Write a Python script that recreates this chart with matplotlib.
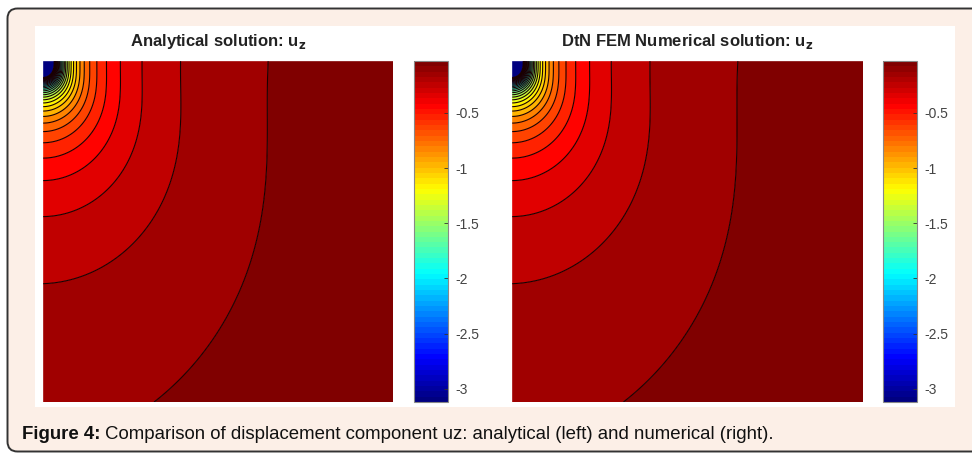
import numpy as np
import matplotlib
matplotlib.use("Agg")
import matplotlib.pyplot as plt
from matplotlib.colors import Normalize, LinearSegmentedColormap
from matplotlib.cm import ScalarMappable
from matplotlib.patches import FancyBboxPatch, Rectangle

# --- values ----------------------------------------------------------------
titles = [r"Analytical solution: u$_\mathbf{z}$",
          r"DtN FEM Numerical solution: u$_\mathbf{z}$"]
caption_bold = "Figure 4:"
caption_text = "Comparison of displacement component uz: analytical (left) and numerical (right)."

# colour range of the colorbars
u_min, u_max = -3.12, -0.03
cbar_ticks = [-3.0, -2.5, -2.0, -1.5, -1.0, -0.5]
cbar_labels = ["-3", "-2.5", "-2", "-1.5", "-1", "-0.5"]
# contour levels (step 0.1, as drawn)
line_levels = [round(-3.1 + 0.1 * k, 2) for k in range(31)]

# Boussinesq-type uz field, fitted to where the contours cross the edges
amp = 0.0505          # surface 2*amp/r, depth 3*amp/z
shift_surface = 0.057
shift_depth = 0.032
shift_corner = 0.018

# panel boxes in pixels (left, top, right, bottom)
plot_boxes = [(43, 61, 393, 402), (512, 61, 863, 402)]
cbar_boxes = [(414, 61, 448, 402), (883, 61, 917, 402)]

W, H = 972, 453
bg_pink = "#fcefe7"

# matlab's 64-step jet
jet_ml = LinearSegmentedColormap("jet_ml", {
    "red":   [(0, 0, 0), (0.375, 0, 0), (0.625, 1, 1), (0.875, 1, 1), (1, 0.5, 0.5)],
    "green": [(0, 0, 0), (0.125, 0, 0), (0.375, 1, 1), (0.625, 1, 1), (0.875, 0, 0), (1, 0, 0)],
    "blue":  [(0, 0.5, 0.5), (0.125, 1, 1), (0.375, 1, 1), (0.625, 0, 0), (1, 0, 0)],
}, N=64)


def frac(box):
    l, t, r, b = box
    return [l / W, 1 - b / H, (r - l) / W, (b - t) / H]


def uz_field(x, z):
    R = np.hypot(x, z)
    s2 = (z / R) ** 2
    shift = shift_surface * (1 - s2) + shift_depth * s2 + shift_corner * x * z
    u = -(amp * (2.0 + s2) / R - shift)
    return np.clip(u, u_min, u_max)


fig = plt.figure(figsize=(W / 100, H / 100), dpi=100)
fig.patch.set_facecolor("white")

# background: rounded pink frame and white panel, drawn in pixel units
bg = fig.add_axes([0, 0, 1, 1], zorder=-10)
bg.set_xlim(0, W)
bg.set_ylim(H, 0)
bg.axis("off")
bg.add_patch(FancyBboxPatch((7.5, 8.5), 990, 443, boxstyle="round,pad=0,rounding_size=10",
                            facecolor=bg_pink, edgecolor="#333333", linewidth=1.4))
bg.add_patch(Rectangle((35, 26), 920, 381, facecolor="white", edgecolor="none"))

xs = np.linspace(0.0005, 1, 900)
zs = np.linspace(0.0005, 1, 900)
X, Z = np.meshgrid(xs, zs)
U = uz_field(X, Z)

fill_levels = [u_min] + line_levels + [u_max]

for i in range(2):
    ax = fig.add_axes(frac(plot_boxes[i]))
    ax.contourf(X, Z, U, levels=fill_levels, cmap=jet_ml,
                norm=Normalize(vmin=u_min, vmax=u_max), antialiased=True)
    ax.contour(X, Z, U, levels=line_levels, colors="#1a0000", linewidths=0.8,
               linestyles="solid")
    ax.set_xlim(0, 1)
    ax.set_ylim(1, 0)
    ax.set_xticks([])
    ax.set_yticks([])
    for sp in ax.spines.values():
        sp.set_visible(False)
    ax.set_title(titles[i], fontsize=12, fontweight="bold", color="#222222",
                 family="Liberation Sans", pad=10.5)

    cax = fig.add_axes(frac(cbar_boxes[i]))
    sm = ScalarMappable(norm=Normalize(vmin=u_min, vmax=u_max), cmap=jet_ml)
    cb = fig.colorbar(sm, cax=cax)
    cb.set_ticks(cbar_ticks)
    cb.set_ticklabels(cbar_labels)
    cb.outline.set_edgecolor("#888888")
    cb.outline.set_linewidth(0.8)
    cax.tick_params(direction="in", length=3, width=0.6, color="#333333",
                    labelsize=10, labelcolor="#444444", pad=5)
    for lab in cax.get_yticklabels():
        lab.set_family("Liberation Sans")

# caption: bold label followed by plain text
t1 = fig.text(22 / W, 1 - 439 / H, caption_bold, fontsize=13.4, fontweight="bold",
              family="Liberation Sans", va="baseline", color="#111111")
fig.canvas.draw()
bb = t1.get_window_extent()
fig.text((bb.x1 + 4) / W, 1 - 439 / H, caption_text, fontsize=13.4,
         family="Liberation Sans", va="baseline", color="#111111")

fig.savefig("out.png", dpi=100)
